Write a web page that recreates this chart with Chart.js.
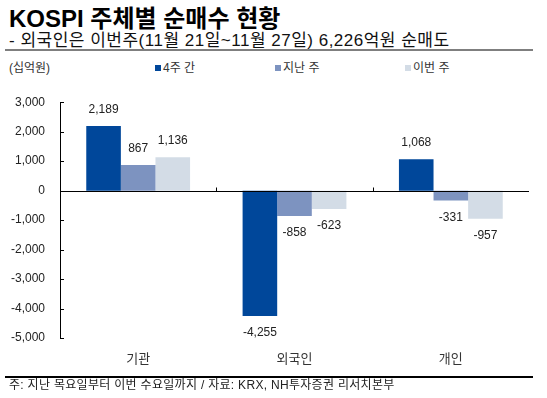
<!DOCTYPE html>
<html lang="ko">
<head>
  <meta charset="UTF-8">
  <title>KOSPI 주체별 순매수 현황</title>
  <style>
    body {
      margin: 0;
      background: #fff;
      font-family: 'Liberation Sans', 'Noto Sans CJK KR', sans-serif;
      color: #000;
    }
    .page {
      position: relative;
      width: 547px;
      height: 398px;
      overflow: hidden;
    }
    .title {
      position: absolute;
      left: 9px;
      top: 7px;
      font-size: 24px;
      font-weight: bold;
      line-height: 1;
      white-space: nowrap;
    }
    .subtitle {
      position: absolute;
      left: 9px;
      top: 32px;
      font-size: 17px;
      letter-spacing: 0.5px;
      line-height: 1;
      white-space: nowrap;
      color: #111;
    }
    .rule-top {
      position: absolute;
      left: 5px;
      top: 49px;
      width: 528px;
      height: 2px;
      background: #7f7f7f;
    }
    .unit {
      position: absolute;
      left: 9px;
      top: 61px;
      font-size: 12px;
      line-height: 14px;
      color: #333;
    }
    .legend-item {
      position: absolute;
      top: 61px;
      font-size: 12px;
      line-height: 14px;
      color: #333;
      white-space: nowrap;
    }
    .legend-item i {
      display: inline-block;
      width: 6px;
      height: 6px;
      margin-right: 2px;
      vertical-align: 1px;
    }
    .chart-box {
      position: absolute;
      left: 0;
      top: 80px;
      width: 547px;
      height: 300px;
    }
    .rule-bottom {
      position: absolute;
      left: 5px;
      top: 376px;
      width: 528px;
      height: 2px;
      background: #000;
    }
    .note {
      position: absolute;
      left: 9px;
      top: 379px;
      font-size: 12px;
      letter-spacing: 0.3px;
      line-height: 13px;
      color: #222;
      white-space: nowrap;
    }
  </style>
</head>
<body>
  <div class="page">
    <div class="title">KOSPI 주체별 순매수 현황</div>
    <div class="subtitle">- 외국인은 이번주(11월 21일~11월 27일) 6,226억원 순매도</div>
    <div class="rule-top"></div>
    <div class="unit">(십억원)</div>
    <div class="legend-item" style="left:155px"><i style="background:#00479a"></i>4주 간</div>
    <div class="legend-item" style="left:275px"><i style="background:#7d93c0"></i>지난 주</div>
    <div class="legend-item" style="left:405px"><i style="background:#d3dce6"></i>이번 주</div>
    <div class="chart-box"><canvas id="flowChart"></canvas></div>
    <div class="rule-bottom"></div>
    <div class="note">주: 지난 목요일부터 이번 수요일까지 / 자료: KRX, NH투자증권 리서치본부</div>
  </div>

  <script src="https://cdn.jsdelivr.net/npm/chart.js"></script>
  <script>
    // data (십억원)
    const categories = ['기관', '외국인', '개인'];
    const fourWeeks = [2189, -4255, 1068];
    const lastWeek = [867, -858, -331];
    const thisWeek = [1136, -623, -957];
    const seriesNames = ['4주 간', '지난 주', '이번 주'];
    const yTicks = [3000, 2000, 1000, 0, -1000, -2000, -3000, -4000, -5000];

    const colors = ['#00479a', '#7d93c0', '#d3dce6'];
    const fmt = v => v.toLocaleString('en-US');

    // axis lines, small ticks and value labels
    const axisPlugin = {
      id: 'axisPlugin',
      afterDatasetsDraw(chart) {
        const ctx = chart.ctx;
        const area = chart.chartArea;
        const y = chart.scales.y;
        const x = chart.scales.x;
        const zero = y.getPixelForValue(0);
        ctx.save();
        ctx.strokeStyle = '#000';
        ctx.lineWidth = 1;
        ctx.beginPath();
        ctx.moveTo(area.left + 0.5, y.getPixelForValue(yTicks[0]));
        ctx.lineTo(area.left + 0.5, y.getPixelForValue(yTicks[yTicks.length - 1]));
        yTicks.forEach(t => {
          const py = Math.round(y.getPixelForValue(t)) + 0.5;
          ctx.moveTo(area.left, py);
          ctx.lineTo(area.left + 4, py);
        });
        const zy = Math.round(zero) + 0.5;
        ctx.moveTo(area.left, zy);
        ctx.lineTo(area.right, zy);
        for (let i = 1; i < categories.length; i++) {
          const px = Math.round((x.getPixelForValue(i - 1) + x.getPixelForValue(i)) / 2) + 0.5;
          ctx.moveTo(px, zy);
          ctx.lineTo(px, zy - 4);
        }
        ctx.stroke();

        ctx.fillStyle = '#222';
        ctx.font = '12px "Liberation Sans", Arial, sans-serif';
        ctx.textAlign = 'center';
        ctx.textBaseline = 'middle';
        chart.data.datasets.forEach((ds, di) => {
          chart.getDatasetMeta(di).data.forEach((bar, i) => {
            const v = ds.data[i];
            const ly = v >= 0 ? bar.y - 16 : bar.y + 17;
            ctx.fillText(fmt(v), bar.x, ly);
          });
        });
        ctx.restore();
      }
    };

    new Chart(document.getElementById('flowChart'), {
      type: 'bar',
      data: {
        labels: categories,
        datasets: [fourWeeks, lastWeek, thisWeek].map((d, i) => ({
          label: seriesNames[i],
          data: d,
          backgroundColor: colors[i],
          borderWidth: 0,
          categoryPercentage: 0.664,
          barPercentage: 1.0
        }))
      },
      options: {
        responsive: true,
        maintainAspectRatio: false,
        animation: false,
        // top label half-height adds ~5px on its own
        layout: { padding: { top: 12, right: 18, left: 0, bottom: 0 } },
        plugins: {
          legend: { display: false },
          tooltip: { enabled: false }
        },
        scales: {
          x: {
            grid: { display: false, drawTicks: false },
            border: { display: false },
            ticks: {
              padding: 12,
              color: '#333',
              font: { family: '"Noto Sans CJK KR", sans-serif', size: 13, lineHeight: 1.2 }
            },
            afterFit(scale) { scale.height = 42; }
          },
          y: {
            min: -5000,
            max: 3000,
            grid: { display: false, drawTicks: false },
            border: { display: false },
            ticks: {
              stepSize: 1000,
              padding: 15,
              color: '#222',
              font: { family: '"Liberation Sans", Arial, sans-serif', size: 12 },
              callback: v => fmt(v)
            },
            afterFit(scale) { scale.width = 60; }
          }
        }
      },
      plugins: [axisPlugin]
    });
  </script>
</body>
</html>
